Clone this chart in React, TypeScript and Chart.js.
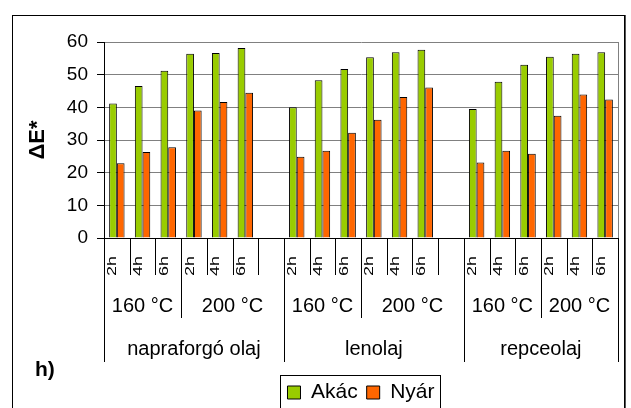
import React, { useEffect, useRef } from 'react';
import { Chart, registerables } from 'chart.js';

Chart.register(...registerables);

// ---- data ----
const hours = ['2h', '4h', '6h', '2h', '4h', '6h', '', '2h', '4h', '6h', '2h', '4h', '6h', '', '2h', '4h', '6h', '2h', '4h', '6h'];
const temps = [
  '160 °C', '160 °C', '160 °C', '200 °C', '200 °C', '200 °C', '200 °C',
  '160 °C', '160 °C', '160 °C', '200 °C', '200 °C', '200 °C', '200 °C',
  '160 °C', '160 °C', '160 °C', '200 °C', '200 °C', '200 °C',
];
const oils = [
  'napraforgó olaj', 'napraforgó olaj', 'napraforgó olaj', 'napraforgó olaj', 'napraforgó olaj', 'napraforgó olaj', 'napraforgó olaj',
  'lenolaj', 'lenolaj', 'lenolaj', 'lenolaj', 'lenolaj', 'lenolaj', 'lenolaj',
  'repceolaj', 'repceolaj', 'repceolaj', 'repceolaj', 'repceolaj', 'repceolaj',
];
const akac = [41.2, 46.5, 51.2, 56.4, 56.6, 58.2, null, 40.0, 48.3, 51.7, 55.3, 56.9, 57.6, null, 39.5, 47.8, 53.0, 55.5, 56.4, 56.9];
const nyar = [22.9, 26.3, 27.8, 39.0, 41.6, 44.5, null, 24.9, 26.7, 32.2, 36.2, 43.2, 46.1, null, 23.1, 26.7, 25.8, 37.4, 43.9, 42.4];
const seriesNames = ['Akác', 'Nyár'];
const yTitle = 'ΔE*';
const panelLabel = 'h)';
const yMin = 0;
const yMax = 60;
const yStep = 10;

const FONT = "'Liberation Sans', Arial, sans-serif";

function runs(keys: string[]) {
  const out: { start: number; end: number }[] = [];
  let s = 0;
  for (let i = 1; i <= keys.length; i++) {
    if (i === keys.length || keys[i] !== keys[s]) {
      out.push({ start: s, end: i });
      s = i;
    }
  }
  return out;
}

const axisPlugin = {
  id: 'multiLevelAxis',
  afterDraw(chart: any) {
    const { ctx, chartArea } = chart;
    const xs = chart.scales.x;
    const n = hours.length;
    const bnd = (i: number) => xs.getPixelForValue(i - 0.5);
    const y0 = chartArea.bottom;
    ctx.save();

    // right plot border
    ctx.strokeStyle = '#808080';
    ctx.lineWidth = 1;
    ctx.beginPath();
    ctx.moveTo(Math.round(chartArea.right) + 0.5, chartArea.top);
    ctx.lineTo(Math.round(chartArea.right) + 0.5, chartArea.bottom);
    ctx.stroke();

    // separators
    ctx.strokeStyle = '#000';
    for (let i = 0; i <= n; i++) {
      let len = 37;
      if (i === 0 || i === n || oils[i] !== oils[i - 1]) len = 124;
      else if (temps[i] !== temps[i - 1]) len = 80;
      const px = Math.round(bnd(i)) + 0.5;
      ctx.beginPath();
      ctx.moveTo(px, y0);
      ctx.lineTo(px, y0 + len);
      ctx.stroke();
    }

    ctx.fillStyle = '#000';
    // hour labels (rotated)
    ctx.font = `18px ${FONT}`;
    ctx.textAlign = 'center';
    ctx.textBaseline = 'middle';
    hours.forEach((h, i) => {
      if (!h) return;
      ctx.save();
      ctx.translate(xs.getPixelForValue(i) - 4, y0 + 28);
      ctx.scale(0.72, 1);
      ctx.rotate(-Math.PI / 2);
      ctx.fillText(h, 0, 0);
      ctx.restore();
    });

    // temperature labels
    ctx.font = `20px ${FONT}`;
    runs(temps.map((t, i) => oils[i] + '|' + t)).forEach((r) => {
      const cx = (bnd(r.start) + bnd(r.end)) / 2;
      ctx.fillText(temps[r.start], cx, y0 + 68);
    });

    // oil labels
    runs(oils).forEach((r) => {
      const cx = (bnd(r.start) + bnd(r.end)) / 2;
      ctx.fillText(oils[r.start], cx, y0 + 111);
    });

    // panel label
    ctx.font = `bold 21px ${FONT}`;
    ctx.textAlign = 'left';
    ctx.textBaseline = 'alphabetic';
    ctx.fillText(panelLabel, 35, 376);

    // legend frame
    const lg = chart.legend;
    if (lg && lg.legendHitBoxes && lg.legendHitBoxes.length) {
      const hb = lg.legendHitBoxes;
      const l = Math.round(hb[0].left - 7) + 0.5;
      const last = hb[hb.length - 1];
      const r = Math.round(last.left + last.width + 5) + 0.5;
      ctx.strokeStyle = '#000';
      ctx.strokeRect(l, 375.5, r - l, 50);
    }

    // outer frame
    ctx.strokeStyle = '#000';
    ctx.lineWidth = 1;
    ctx.strokeRect(12.5, 15.5, 612, 420);
    ctx.strokeStyle = '#555';
    ctx.beginPath();
    ctx.moveTo(625.5, 15);
    ctx.lineTo(625.5, 408);
    ctx.stroke();

    ctx.restore();
  },
};

export default function App() {
  const ref = useRef<HTMLCanvasElement | null>(null);
  useEffect(() => {
    if (!ref.current) return;
    const chart = new Chart(ref.current, {
      type: 'bar',
      data: {
        labels: hours,
        datasets: [
          {
            label: seriesNames[0],
            data: akac as any,
            backgroundColor: '#99CC00',
            borderColor: '#000',
            borderWidth: 1,
            categoryPercentage: 0.6,
            barPercentage: 1,
          },
          {
            label: seriesNames[1],
            data: nyar as any,
            backgroundColor: '#FF6600',
            borderColor: '#000',
            borderWidth: 1,
            categoryPercentage: 0.6,
            barPercentage: 1,
          },
        ],
      },
      options: {
        animation: false,
        responsive: false,
        events: [],
        layout: { padding: { top: 42, left: 13, right: 13, bottom: 0 } },
        plugins: {
          tooltip: { enabled: false },
          legend: {
            position: 'bottom',
            fullSize: false,
            maxHeight: 35,
            labels: {
              boxWidth: 13,
              boxHeight: 13,
              padding: 9,
              color: '#000',
              font: { family: FONT, size: 21 },
            },
          } as any,
        },
        scales: {
          x: {
            ticks: { display: false },
            grid: { display: false },
            border: { display: true, color: '#000', width: 1 },
            afterFit: (s: any) => {
              s.height = 135;
            },
          },
          y: {
            min: yMin,
            max: yMax,
            ticks: { stepSize: yStep, color: '#000', padding: 9, font: { family: FONT, size: 19 } },
            grid: { color: '#808080', tickColor: '#000', tickLength: 7, lineWidth: 1 },
            border: { color: '#000', width: 1 },
            title: {
              display: true,
              text: yTitle,
              color: '#000',
              font: { family: FONT, size: 22, weight: 'bold' },
              padding: { top: 12, bottom: 0 },
            },
            afterFit: (s: any) => {
              s.width = 91;
            },
          },
        },
      },
      plugins: [axisPlugin],
    });
    return () => chart.destroy();
  }, []);
  return (
    <div style={{ position: 'fixed', left: 0, top: 0, width: 631, height: 408, background: '#fff' }}>
      <canvas ref={ref} width={631} height={408} style={{ display: 'block' }} />
    </div>
  );
}
